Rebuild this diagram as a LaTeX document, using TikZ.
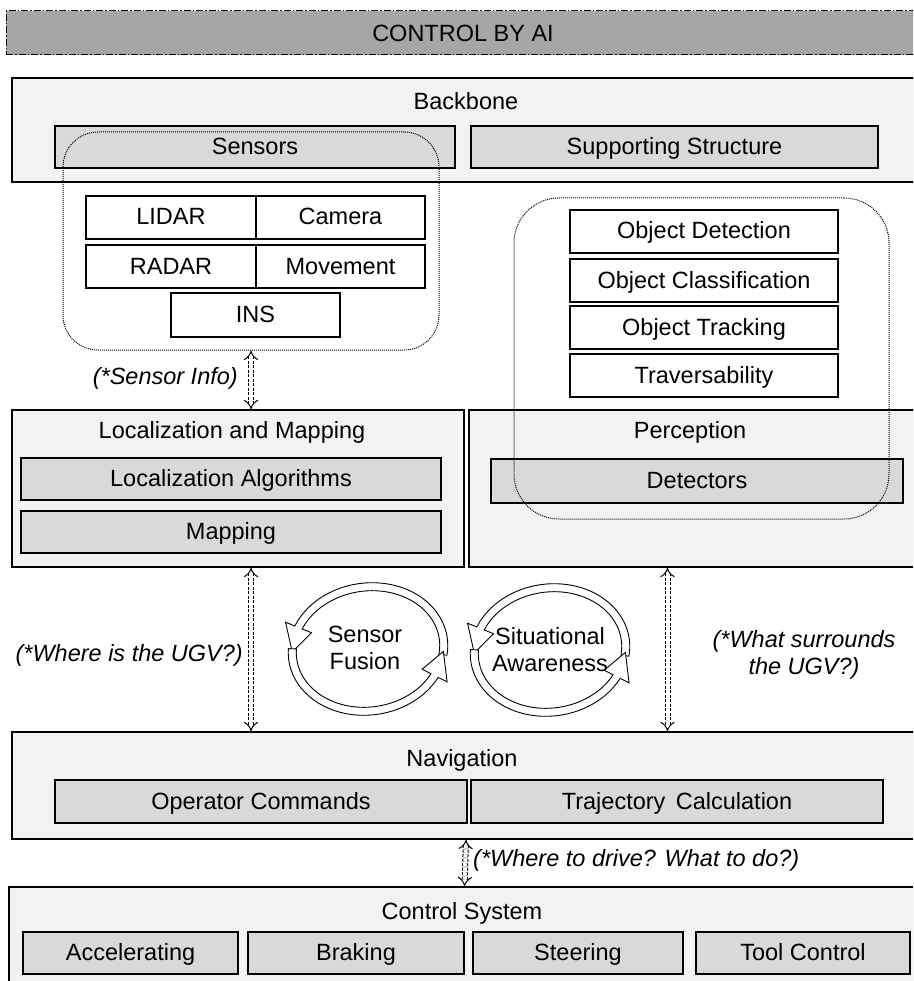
\documentclass[tikz,border=0pt]{standalone}
\usepackage{fontspec}
\setmainfont{Liberation Sans}
\usetikzlibrary{arrows.meta}
\newcommand\lbl{\fontsize{23.5}{27}\selectfont}
\definecolor{aigray}{HTML}{A6A6A6}
\definecolor{panel}{HTML}{F2F2F2}
\definecolor{inner}{HTML}{D9D9D9}
\tikzset{
  cont/.style={draw, fill=panel, line width=1.2pt, inner sep=0pt},
  part/.style={draw, fill=inner, line width=1.2pt, inner sep=0pt, font=\lbl,
               text height=17pt, text depth=2pt},
  item/.style={draw, fill=white, line width=1.2pt, inner sep=0pt, font=\lbl,
               text height=17pt, text depth=2pt},
  title/.style={font=\lbl, inner sep=0pt},
  note/.style={font=\lbl\itshape, inner sep=0pt, align=center},
  grp/.style={draw, dash pattern=on 1pt off 1pt, line width=1pt, inner sep=0pt},
  dbl/.style={dash pattern=on 3pt off 1.5pt, double, double distance=4pt, line width=1pt,
              {Implies}-{Implies}},
  band/.style={draw, fill=white, line width=0.9pt}
}
\begin{document}
\begin{tikzpicture}[x=1pt, y=-1pt]
  \useasboundingbox (0,0) rectangle (913,981);
  \clip (0,0) rectangle (913,981);

  % top
  \node[draw, fill=aigray, line width=1pt, dash pattern=on 7pt off 2pt on 1.5pt off 2pt,
        minimum width=914, minimum height=44, font=\lbl, inner sep=0pt] (ai) at (463,33) {CONTROL BY AI};

  % backbone
  \node[cont, minimum width=908, minimum height=104] (bb) at (466,130) {};
  \node[title] (bbt) at (466,101) {Backbone};
  \node[part, minimum width=400, minimum height=42] (sens) at (255,147) {Sensors};
  \node[part, minimum width=407, minimum height=42] (supp) at (674.5,147) {Supporting Structure};

  % sensors
  \node[item, minimum width=170, minimum height=43] (lidar) at (171,217.5) {LIDAR};
  \node[item, minimum width=169, minimum height=43] (cam) at (340.5,217.5) {Camera};
  \node[item, minimum width=170, minimum height=43] (radar) at (171,266.5) {RADAR};
  \node[item, minimum width=169, minimum height=43] (move) at (340.5,266.5) {Movement};
  \node[item, minimum width=169, minimum height=44] (ins) at (255.5,315) {INS};

  % perception items
  \node[item, minimum width=268, minimum height=43] (objdet) at (704,231.5) {Object Detection};
  \node[item, minimum width=268, minimum height=43] (objcls) at (704,280.5) {Object Classification};
  \node[item, minimum width=268, minimum height=43] (objtrk) at (704,327.5) {Object Tracking};
  \node[item, minimum width=268, minimum height=43] (trav) at (704,375.5) {Traversability};

  % localization / perception
  \node[cont, minimum width=452, minimum height=157] (locmap) at (238,488.5) {};
  \node[title] (locmapt) at (232,432) {Localization and Mapping};
  \node[part, minimum width=420, minimum height=42] (localg) at (231,479) {Localization Algorithms};
  \node[part, minimum width=420, minimum height=42] (mapping) at (231,532) {Mapping};
  \node[cont, minimum width=451, minimum height=157] (perc) at (694.5,488.5) {};
  \node[title] (perct) at (690,432) {Perception};
  \node[part, minimum width=412, minimum height=44] (detect) at (697,481) {Detectors};

  % dotted groups
  \node[grp, rounded corners=35pt, minimum width=376, minimum height=218] (sensgrp) at (251,241) {};
  \node[grp, rounded corners=45pt, minimum width=375, minimum height=321] (percgrp) at (701.5,358.5) {};

  % navigation
  \node[cont, minimum width=908, minimum height=107] (nav) at (466,785.5) {};
  \node[title] (navt) at (462,760) {Navigation};
  \node[part, minimum width=412, minimum height=43] (opcmd) at (261,801.5) {Operator Commands};
  \node[part, minimum width=412, minimum height=43] (traj) at (677,801.5) {Trajectory\, Calculation};

  % control system
  \node[cont, minimum width=911, minimum height=103] (ctrl) at (464.5,938.5) {};
  \node[title] (ctrlt) at (462,913) {Control System};
  \node[part, minimum width=215, minimum height=42] (acc) at (130.5,953) {Accelerating};
  \node[part, minimum width=216, minimum height=42] (brk) at (356,953) {Braking};
  \node[part, minimum width=210, minimum height=42] (steer) at (578,953) {Steering};
  \node[part, minimum width=214, minimum height=42] (tool) at (803,953) {Tool Control};

  % cycles
  \foreach \cx/\cy in {368/649, 550/650} {
    \begin{scope}[shift={(\cx,\cy)}, yscale=-1, rotate=-8]
      \draw[band] (-15:80 and 66) arc[start angle=-15, end angle=150, x radius=80, y radius=66]
        -- (150:90 and 76) -- (173:76 and 62) -- (150:62 and 48) -- (150:72 and 58)
        arc[start angle=150, end angle=-15, x radius=72, y radius=58] -- cycle;
      \draw[band] (170:80 and 66) arc[start angle=170, end angle=325, x radius=80, y radius=66]
        -- (325:90 and 76) -- (348:76 and 62) -- (325:62 and 48) -- (325:72 and 58)
        arc[start angle=325, end angle=170, x radius=72, y radius=58] -- cycle;
    \end{scope}
  }
  \node[title, align=center] (fus) at (365,648) {Sensor\\Fusion};
  \node[title, align=center] (aware) at (550,650) {Situational\\Awareness};

  % arrows
  \draw[dbl] (sensgrp.south) -- (sensgrp.south |- locmap.north);
  \draw[dbl] (locmap.south -| sensgrp.south) -- (nav.north -| sensgrp.south);
  \draw[dbl] ([xshift=-27pt]perc.south) -- ([xshift=-27pt]perc.south |- nav.north);
  \draw[dbl] (nav.south) -- (ctrl.north);

  % notes
  \node[note, anchor=east] (info) at (238,378) {(*Sensor Info)};
  \node[note, anchor=east] (where) at (243,655) {(*Where is the UGV?)};
  \node[note] (what) at (804,655) {(*What surrounds\\the UGV?)};
  \node[note, anchor=west] (todo) at (473,860) {(*Where to drive? What to do?)};
\end{tikzpicture}
\end{document}
